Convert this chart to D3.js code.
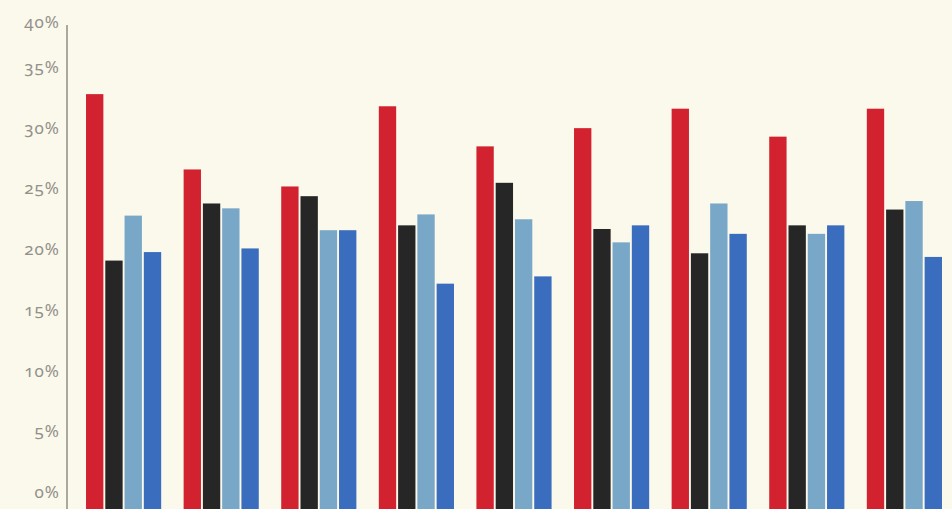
<!DOCTYPE html>
<html>
<head>
<meta charset="utf-8">
<script src="https://cdn.jsdelivr.net/npm/d3@7"></script>
<style>
  html, body { margin: 0; padding: 0; background: #fbf8ec; }
  svg { display: block; }
  .tick text {
    font-family: "Noto Sans", sans-serif;
    font-variant-numeric: oldstyle-nums;
    font-feature-settings: "onum" 1;
  }
</style>
</head>
<body>
<script>
// Nine groups of four bars, values in percent
const groups = ["1", "2", "3", "4", "5", "6", "7", "8", "9"];
const seriesKeys = ["s1", "s2", "s3", "s4"];
const s1 = [32.5, 26.3, 24.9, 31.5, 28.2, 29.7, 31.3, 29.0, 31.3];
const s2 = [18.8, 23.5, 24.1, 21.7, 25.2, 21.4, 19.4, 21.7, 23.0];
const s3 = [22.5, 23.1, 21.3, 22.6, 22.2, 20.3, 23.5, 21.0, 23.7];
const s4 = [19.5, 19.8, 21.3, 16.9, 17.5, 21.7, 21.0, 21.7, 19.1];
const tickValues = [0, 5, 10, 15, 20, 25, 30, 35, 40];
const tickLabels = ["0%", "5%", "10%", "15%", "20%", "25%", "30%", "35%", "40%"];

const seriesValues = [s1, s2, s3, s4];
const colors = ["#d3222f", "#262626", "#79a7c7", "#3a6dbd"];

const W = 952, H = 509;
const axisX = 67;

const svg = d3.select("body").append("svg")
  .attr("width", W).attr("height", H);

svg.append("rect").attr("width", W).attr("height", H).attr("fill", "#fbf8ec");

const y = d3.scaleLinear().domain([0, 40]).range([489, 3]);

const x0 = d3.scaleBand()
  .domain(groups)
  .range([74.8, 953.2])
  .paddingInner(0.23)
  .paddingOuter(0.115);

const x1 = d3.scaleBand()
  .domain(seriesKeys)
  .range([0, x0.bandwidth()])
  .paddingInner(0.1);

const color = d3.scaleOrdinal().domain(seriesKeys).range(colors);

// bars run down past the zero line to the bottom edge of the plot
const g = svg.append("g");
groups.forEach((grp, gi) => {
  const row = g.append("g").attr("transform", `translate(${x0(grp)},0)`);
  seriesKeys.forEach((k, si) => {
    const v = seriesValues[si][gi];
    row.append("rect")
      .attr("x", x1(k))
      .attr("y", y(v))
      .attr("width", x1.bandwidth())
      .attr("height", H - y(v))
      .attr("fill", color(k));
  });
});

// vertical axis line
svg.append("line")
  .attr("x1", axisX).attr("x2", axisX)
  .attr("y1", 25).attr("y2", H)
  .attr("stroke", "#aaa99f")
  .attr("stroke-width", 2);

const axis = d3.axisLeft(y)
  .tickValues(tickValues)
  .tickFormat((d, i) => tickLabels[i])
  .tickSize(0)
  .tickPadding(7);

const ag = svg.append("g")
  .attr("transform", `translate(${axisX},0)`)
  .call(axis);
ag.select(".domain").remove();
ag.selectAll(".tick text")
  .attr("fill", "#92918a")
  .attr("font-size", 17)
  .attr("letter-spacing", "1px")
  .attr("dy", "0.5em");
// keep the top label inside the frame, just beside the axis top
ag.selectAll(".tick")
  .filter(d => d === 40)
  .attr("transform", "translate(0,19)");
</script>
</body>
</html>
